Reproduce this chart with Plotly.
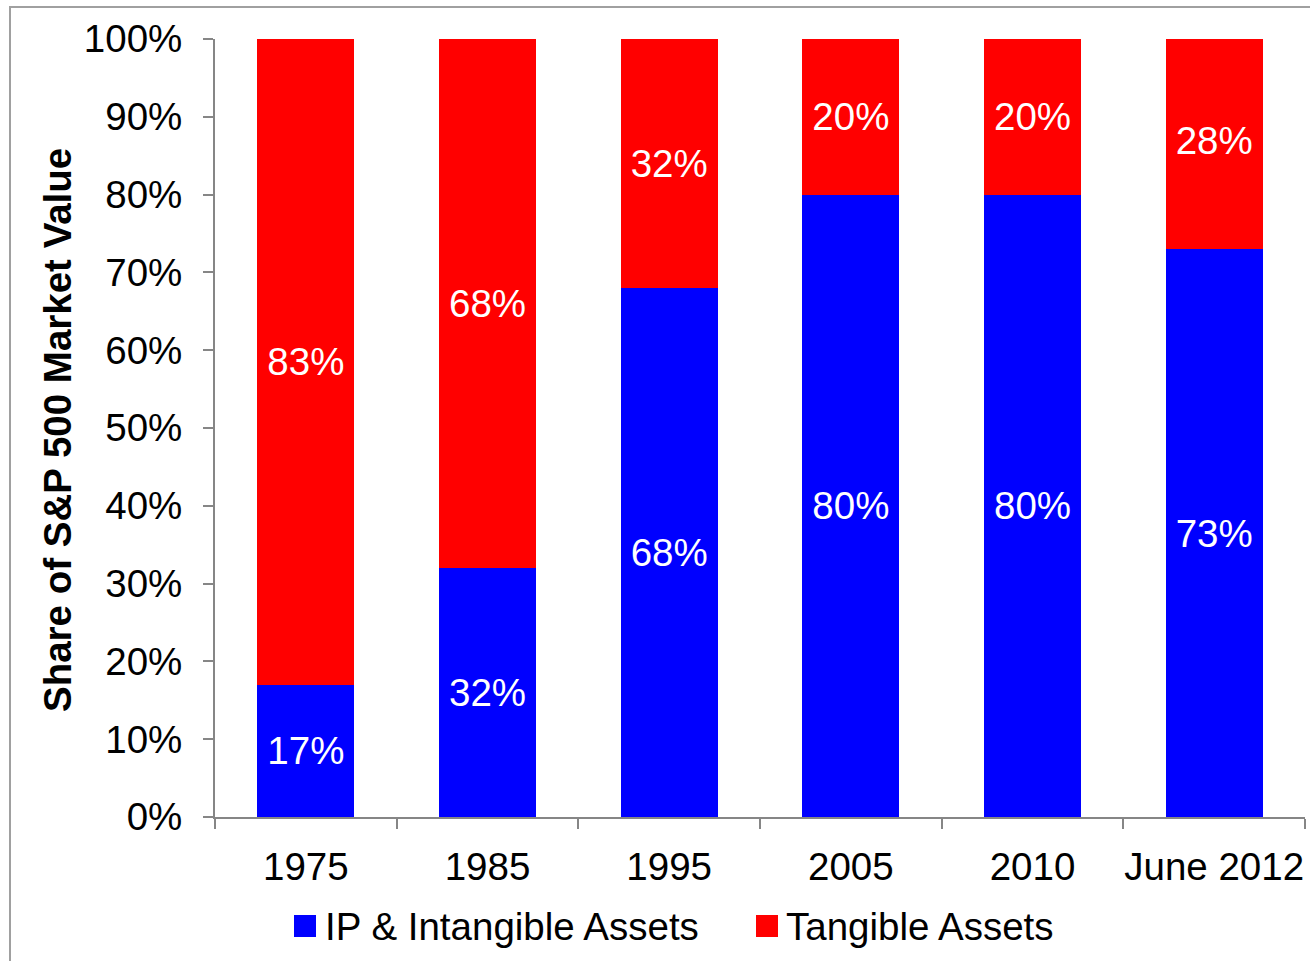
import plotly.graph_objects as go

# Share of S&P 500 market value by asset type
periods = ["1975", "1985", "1995", "2005", "2010", "June 2012"]
intangible = [17, 32, 68, 80, 80, 73]
tangible = [83, 68, 32, 20, 20, 28]
series_names = ["IP & Intangible Assets", "Tangible Assets"]
series_colors = ["#0000FF", "#FF0000"]
y_title = "Share of S&P 500 Market Value"
y_ticks = [0, 10, 20, 30, 40, 50, 60, 70, 80, 90, 100]
y_tick_text = [f"{v}%" for v in y_ticks]

FONT = "Arial, Liberation Sans, sans-serif"
FS = 38.5
W, H = 1310, 961
L, R, T, B = 215, 5, 39, 144
pw, ph = W - L - R, H - T - B


def px_x(x):
    return (x - L) / pw


def px_y(y):
    return (H - B - y) / ph


fig = go.Figure()
for vals, name, color in zip([intangible, tangible], series_names, series_colors):
    fig.add_trace(go.Bar(
        x=periods, y=vals, name=name,
        marker=dict(color=color, line=dict(width=0)),
        text=[f"{v}%" for v in vals],
        textposition="inside", insidetextanchor="middle",
        textfont=dict(family=FONT, size=FS, color="white"),
        textangle=0, showlegend=False,
        hoverinfo="x+y+name",
    ))

# Legend drawn as swatches and labels below the axis
shapes = []
annotations = []
legend_items = [(294, 325), (756, 786)]
for (sx, tx), name, color in zip(legend_items, series_names, series_colors):
    shapes.append(dict(type="rect", xref="paper", yref="paper",
                       x0=px_x(sx), x1=px_x(sx + 22), y0=px_y(937), y1=px_y(915),
                       fillcolor=color, line=dict(width=0)))
    annotations.append(dict(text=name, xref="paper", yref="paper",
                            x=px_x(tx - 2), y=px_y(926), xanchor="left", yanchor="middle",
                            showarrow=False,
                            font=dict(family=FONT, size=FS, color="black")))

# Vertical axis title
annotations.append(dict(text=f"<b>{y_title}</b>", xref="paper", yref="paper",
                        x=px_x(57), y=px_y(430), xanchor="center", yanchor="middle",
                        textangle=-90, showarrow=False,
                        font=dict(family=FONT, size=FS, color="black")))

# Outer frame
shapes.append(dict(type="rect", xref="paper", yref="paper",
                   x0=px_x(10), x1=px_x(1340), y0=px_y(990), y1=px_y(7),
                   line=dict(color="#A0A0A0", width=2), fillcolor="rgba(0,0,0,0)"))

fig.update_layout(
    barmode="stack", bargap=0.466,
    width=W, height=H,
    margin=dict(l=L, r=R, t=T, b=B, pad=0, autoexpand=False),
    paper_bgcolor="white", plot_bgcolor="white",
    font=dict(family=FONT, size=FS, color="black"),
    shapes=shapes, annotations=annotations,
    showlegend=False,
    uniformtext=dict(minsize=FS, mode="show"),
)
fig.update_xaxes(
    type="category", range=[-0.5, 5.5], automargin=False, tickangle=0,
    showline=True, linecolor="#868686", linewidth=2,
    ticks="outside", tickson="boundaries", ticklen=10, tickcolor="#868686", tickwidth=2,
    tickfont=dict(family=FONT, size=FS, color="black"),
    ticklabelstandoff=15,
    showgrid=False, zeroline=False,
)
fig.update_yaxes(
    range=[0, 100], tickvals=y_ticks, ticktext=y_tick_text, automargin=False,
    showline=True, linecolor="#868686", linewidth=2,
    ticks="outside", ticklen=10, tickcolor="#868686", tickwidth=2,
    tickfont=dict(family=FONT, size=FS, color="black"),
    ticklabelstandoff=13,
    showgrid=False, zeroline=False,
)

fig.write_html("out.html")
